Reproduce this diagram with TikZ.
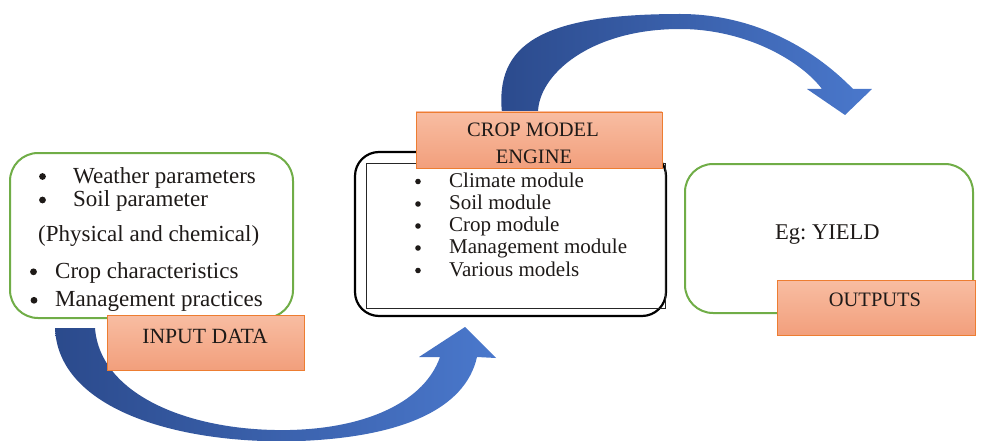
\documentclass[tikz,border=0pt]{standalone}
\usepackage{fontspec}
\setmainfont{Liberation Serif}
\definecolor{boxgreen}{HTML}{70AD47}
\definecolor{salmontop}{HTML}{F8BDA2}
\definecolor{salmonbot}{HTML}{F29F7C}
\definecolor{salmonedge}{HTML}{ED7D31}
\definecolor{arrowdark}{HTML}{2B4A8C}
\definecolor{arrowlight}{HTML}{4A78CC}
\definecolor{txtcol}{HTML}{1E1A18}
\begin{document}
\frenchspacing
\begin{tikzpicture}[x=1pt,y=-1pt,
  frame/.style={inner sep=0pt, outer sep=0pt, fill=white},
  greenframe/.style={frame, draw=boxgreen, line width=2pt, rounded corners=28pt},
  blackframe/.style={frame, draw=black, line width=2.2pt, rounded corners=24pt},
  labelbox/.style={inner sep=0pt, outer sep=0pt, draw=salmonedge, line width=0.8pt,
     top color=salmontop, bottom color=salmonbot, minimum width=197pt, minimum height=55pt},
  ltxt/.style={anchor=base west, inner sep=0pt, text=txtcol, font=\fontsize{23}{27}\selectfont},
  ctxt/.style={anchor=base west, inner sep=0pt, text=txtcol, font=\fontsize{21}{25}\selectfont},
  dot/.style={circle, fill=txtcol, inner sep=0pt, outer sep=0pt, minimum size=#1},
  labtxt/.style={anchor=base, inner sep=0pt, text=txtcol, font=\fontsize{20.5}{24}\selectfont},
  blockarrow/.style={left color=arrowdark, right color=arrowlight}
]
\useasboundingbox (0,0) rectangle (1006,441);

% top curved arrow (engine -> outputs)
\shade[blockarrow]
 (502,120) -- (502,113) .. controls (495,45) and (540,14) .. (680,14)
 .. controls (750,14) and (810,45) .. (853,89)
 -- (872,89) -- (845,115) -- (807,89) -- (822,89)
 .. controls (800,60) and (745,29) .. (680,29)
 .. controls (590,29) and (538,75) .. (538,113) -- (538,120) -- cycle;

% bottom curved arrow (input -> engine)
\shade[blockarrow]
 (55,328) .. controls (58,410) and (180,445) .. (300,441)
 .. controls (400,437) and (465,410) .. (477,357)
 -- (496,358) -- (465,327) -- (419,357) -- (440,357)
 .. controls (425,400) and (370,428) .. (290,430)
 .. controls (190,432) and (100,395) .. (95,328) -- cycle;

% frames
\node[greenframe, minimum width=283pt, minimum height=165pt] (inframe) at (151.5,235.5) {};
\node[blackframe, minimum width=311pt, minimum height=164pt] (engframe) at (510.5,234) {};
\node[inner sep=0pt, outer sep=0pt, draw=black!85, line width=0.8pt,
      minimum width=299pt, minimum height=145pt] (enginner) at (515.5,235.5) {};
\node[greenframe, minimum width=288pt, minimum height=149pt] (outframe) at (829,238.5) {};

% label boxes
\node[labelbox] (inbox) at (205.5,342.5) {};
\node[labelbox, minimum width=246pt, minimum height=56pt] (engbox) at (539,140) {};
\node[labelbox, minimum width=198pt] (outbox) at (876,307.5) {};

% label texts
\node[labtxt, font=\fontsize{21.7}{25}\selectfont] (inlab) at (205,343) {INPUT DATA};
\node[labtxt] (englab1) at (533,136) {CROP MODEL};
\node[labtxt] (englab2) at (534,164) {ENGINE};
\node[labtxt] (outlab) at (875,306.5) {OUTPUTS};

% input list
\node[dot=6.8pt] (ib1) at (42.5,176.5) {};
\node[ltxt] (it1) at (73,183) {Weather parameters};
\node[dot=6.8pt] (ib2) at (42.5,200) {};
\node[ltxt] (it2) at (73,206.5) {Soil parameter};
\node[ltxt] (it3) at (38,241.5) {(Physical and chemical)};
\node[dot=6.8pt] (ib4) at (33.5,271.8) {};
\node[ltxt] (it4) at (55,278) {Crop characteristics};
\node[dot=6.8pt] (ib5) at (34,300.3) {};
\node[ltxt] (it5) at (55,306.5) {Management practices};

% engine list
\node[dot=5.6pt] (cb1) at (418,181.5) {};
\node[ctxt] (ct1) at (449,187) {Climate module};
\node[dot=5.6pt] (cb2) at (418,204) {};
\node[ctxt] (ct2) at (449,209.5) {Soil module};
\node[dot=5.6pt] (cb3) at (418,226) {};
\node[ctxt] (ct3) at (449,231.5) {Crop module};
\node[dot=5.6pt] (cb4) at (418,248) {};
\node[ctxt] (ct4) at (449,253.5) {Management module};
\node[dot=5.6pt] (cb5) at (418,270.5) {};
\node[ctxt] (ct5) at (449,276) {Various models};

% output text
\node[ltxt, font=\fontsize{22.5}{26}\selectfont] (yield) at (775,239.3) {Eg: YIELD};
\end{tikzpicture}
\end{document}
